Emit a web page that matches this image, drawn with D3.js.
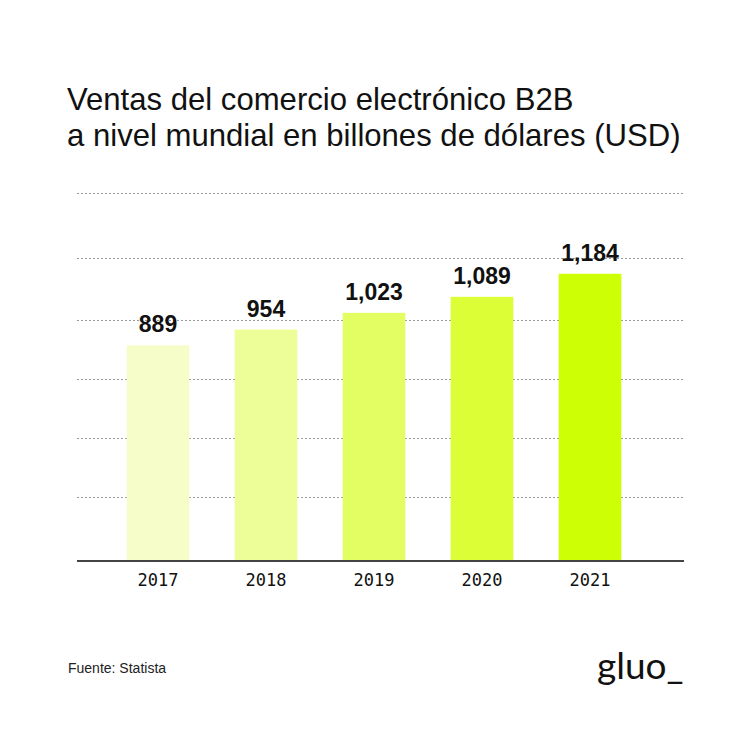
<!DOCTYPE html>
<html><head><meta charset="utf-8">
<script src="https://cdn.jsdelivr.net/npm/d3@7"></script>
<style>body{margin:0;background:#fff}</style>
</head><body>
<script>
const years = ["2017","2018","2019","2020","2021"];
const sales = [889, 954, 1023, 1089, 1184];
const valueLabels = ["889","954","1,023","1,089","1,184"];
const barColors = ["#f6fdc9","#edfe99","#e3fe62","#dbfe36","#cdff05"];
const gridValues = [265, 505, 750, 995, 1250, 1517];
const titleLines = ["Ventas del comercio electrónico B2B","a nivel mundial en billones de dólares (USD)"];
const source = "Fuente: Statista";
const logo = "gluo_";

const W = 749, H = 749;
const svg = d3.select("body").append("svg").attr("width", W).attr("height", H)
  .style("background", "#fff");

const x = d3.scaleBand().domain(years).range([104, 644]).paddingInner(0.42).paddingOuter(0.21);
const y = d3.scaleLinear().domain([0, 1517]).range([561, 193]);

// title
svg.append("g").selectAll("text").data(titleLines).join("text")
  .attr("x", 67).attr("y", (d, i) => 110 + i * 36)
  .attr("font-family", "Liberation Sans, Arial, sans-serif")
  .attr("font-size", 31.1).attr("fill", "#111")
  .text(d => d);

// grid
svg.append("g").selectAll("line").data(gridValues).join("line")
  .attr("x1", 77).attr("x2", 684)
  .attr("y1", d => Math.round(y(d)) + 0.5).attr("y2", d => Math.round(y(d)) + 0.5)
  .attr("stroke", "#9a9a9a").attr("stroke-width", 1).attr("stroke-dasharray", "2,2");

// bars
svg.append("g").selectAll("rect").data(sales).join("rect")
  .attr("x", (d, i) => x(years[i])).attr("width", x.bandwidth())
  .attr("y", d => y(d)).attr("height", d => y(0) - y(d))
  .attr("fill", (d, i) => barColors[i]);

// baseline axis
const xAxis = d3.axisBottom(x).tickSize(0).tickPadding(13);
const ax = svg.append("g").attr("transform", `translate(0,${y(0)})`).call(xAxis);
ax.select(".domain").remove();
ax.append("line").attr("x1", 77).attr("x2", 684).attr("stroke", "#444").attr("stroke-width", 2);
ax.selectAll(".tick text").attr("font-family", "DejaVu Sans Mono, monospace")
  .attr("font-size", 17).attr("fill", "#111");

// value labels
svg.append("g").selectAll("text").data(sales).join("text")
  .attr("x", (d, i) => x(years[i]) + x.bandwidth() / 2)
  .attr("y", d => y(d) - 13)
  .attr("text-anchor", "middle")
  .attr("font-family", "Liberation Sans, Arial, sans-serif").attr("font-weight", "bold")
  .attr("font-size", 23).attr("fill", "#111")
  .text((d, i) => valueLabels[i]);

// source
svg.append("text").attr("x", 68).attr("y", 673)
  .attr("font-family", "Liberation Sans, Arial, sans-serif").attr("font-size", 14)
  .attr("fill", "#222").text(source);

// logo
svg.append("text").attr("x", 597).attr("y", 679)
  .attr("font-family", "Lato, sans-serif").attr("font-size", 37)
  .attr("fill", "#111").text(logo);
</script>
</body></html>
